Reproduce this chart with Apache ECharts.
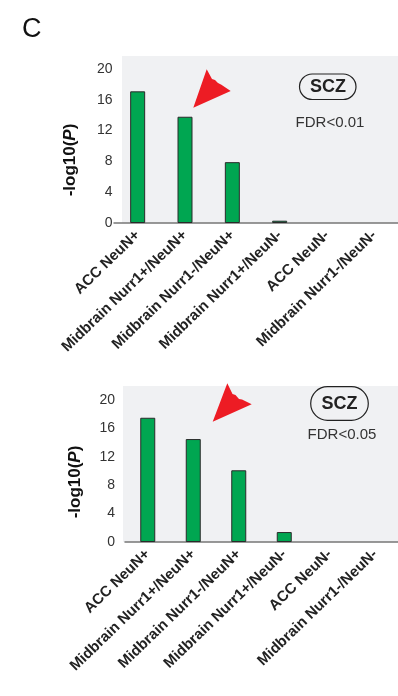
<!DOCTYPE html>
<html>
<head>
<meta charset="utf-8">
<script src="https://cdn.jsdelivr.net/npm/echarts@6/dist/echarts.min.js"></script>
<style>
  html, body { margin: 0; padding: 0; background: #ffffff; }
  #chart { width: 398px; height: 696px; }
</style>
</head>
<body>
<div id="chart"></div>
<script>
// Cell types tested for SCZ enrichment
var categories = ['ACC NeuN+', 'Midbrain Nurr1+/NeuN+', 'Midbrain Nurr1-/NeuN+',
                  'Midbrain Nurr1+/NeuN-', 'ACC NeuN-', 'Midbrain Nurr1-/NeuN-'];
// -log10(P) at each FDR threshold
var scoresFdr01 = [17.1, 13.8, 7.9, 0.3, 0, 0];
var scoresFdr05 = [17.5, 14.5, 10.1, 1.4, 0, 0];
// y-axis ticks
var yTicks = [0, 4, 8, 12, 16, 20];

var FONT = '"Liberation Sans", Arial, Helvetica, sans-serif';
var GREEN = '#00a651';
var PANEL = '#f0f1f3';

function barData(values) {
  return values.map(function (v) {
    return v === 0 ? { value: v, itemStyle: { borderWidth: 0 } } : v;
  });
}

function xAxisFor(gridIndex) {
  return {
    type: 'category',
    gridIndex: gridIndex,
    data: categories,
    axisLine: { show: true, lineStyle: { color: '#777', width: 1.5 } },
    axisTick: { show: false },
    axisLabel: {
      interval: 0, rotate: 44, margin: 10, padding: [14, 0, 0, 0],
      fontFamily: FONT, fontWeight: 'bold', fontSize: 15, color: '#222'
    }
  };
}

function yAxisFor(gridIndex, margin) {
  return {
    type: 'value',
    gridIndex: gridIndex,
    min: yTicks[0],
    max: yTicks[yTicks.length - 1],
    interval: yTicks[1] - yTicks[0],
    axisLine: { show: false },
    axisTick: { show: false },
    splitLine: { show: false },
    axisLabel: { margin: margin, fontFamily: FONT, fontSize: 14, color: '#333' }
  };
}

function arrow(points) {
  return {
    type: 'polygon', z: 10,
    shape: { points: points },
    style: { fill: '#ed1c24', stroke: null }
  };
}

function yTitle(x, y) {
  return {
    type: 'text', x: x, y: y, rotation: Math.PI / 2, z: 10,
    style: {
      text: '-log10({i|P})',
      font: 'bold 17px ' + FONT,
      fill: '#111',
      align: 'center', verticalAlign: 'middle',
      rich: { i: { fontStyle: 'italic', fontWeight: 'bold', fontSize: 17, fontFamily: FONT, fill: '#111' } }
    }
  };
}

function badge(x, y, w, h, cx, cy, fdrText, fx, fy) {
  return [
    { type: 'rect', z: 10, shape: { x: x, y: y, width: w, height: h, r: h / 2 },
      style: { fill: 'none', stroke: '#222', lineWidth: 1.2 } },
    { type: 'text', z: 10, x: cx, y: cy,
      style: { text: 'SCZ', font: 'bold 18px ' + FONT, fill: '#222', align: 'center', verticalAlign: 'middle' } },
    { type: 'text', z: 10, x: fx, y: fy,
      style: { text: fdrText, font: '15px ' + FONT, fill: '#333', align: 'center', verticalAlign: 'middle' } }
  ];
}

var chart = echarts.init(document.getElementById('chart'), null, { renderer: 'canvas' });

var graphics = [
  { type: 'rect', z: -10, shape: { x: 122, y: 56, width: 276, height: 167 }, style: { fill: PANEL } },
  { type: 'rect', z: -10, shape: { x: 123, y: 386, width: 275, height: 156 }, style: { fill: PANEL } },
  { type: 'text', x: 22, y: 29.5, z: 10,
    style: { text: 'C', font: '27px ' + FONT, fill: '#111', align: 'left', verticalAlign: 'middle' } },
  yTitle(70, 160),
  yTitle(75.5, 482),
  arrow([[193.3, 107.7], [206.7, 69.3], [212, 79], [215, 80], [218, 83], [221, 84.5], [230.7, 91]]),
  arrow([[212.7, 421.7], [227.3, 383.3], [232.5, 394], [235.5, 395], [239, 399], [242, 399.5], [251.7, 404.3]])
].concat(
  badge(299.5, 74, 56.5, 25.5, 328, 87, 'FDR<0.01', 330, 122.5),
  badge(310.7, 386.7, 57.6, 33.6, 339.5, 403.7, 'FDR<0.05', 342, 434.5)
);

chart.setOption({
  animation: false,
  backgroundColor: '#ffffff',
  grid: [
    { left: 114, top: 69, width: 285, height: 154 },
    { left: 125, top: 400, width: 294, height: 142 }
  ],
  xAxis: [xAxisFor(0), xAxisFor(1)],
  yAxis: [yAxisFor(0, 1.5), yAxisFor(1, 10)],
  series: [
    {
      type: 'bar', name: 'FDR<0.01', xAxisIndex: 0, yAxisIndex: 0,
      data: barData(scoresFdr01), barWidth: 15,
      itemStyle: { color: GREEN, borderColor: '#2a2a2a', borderWidth: 1 }
    },
    {
      type: 'bar', name: 'FDR<0.05', xAxisIndex: 1, yAxisIndex: 1,
      data: barData(scoresFdr05), barWidth: 15,
      itemStyle: { color: GREEN, borderColor: '#2a2a2a', borderWidth: 1 }
    }
  ],
  graphic: graphics
});
</script>
</body>
</html>
